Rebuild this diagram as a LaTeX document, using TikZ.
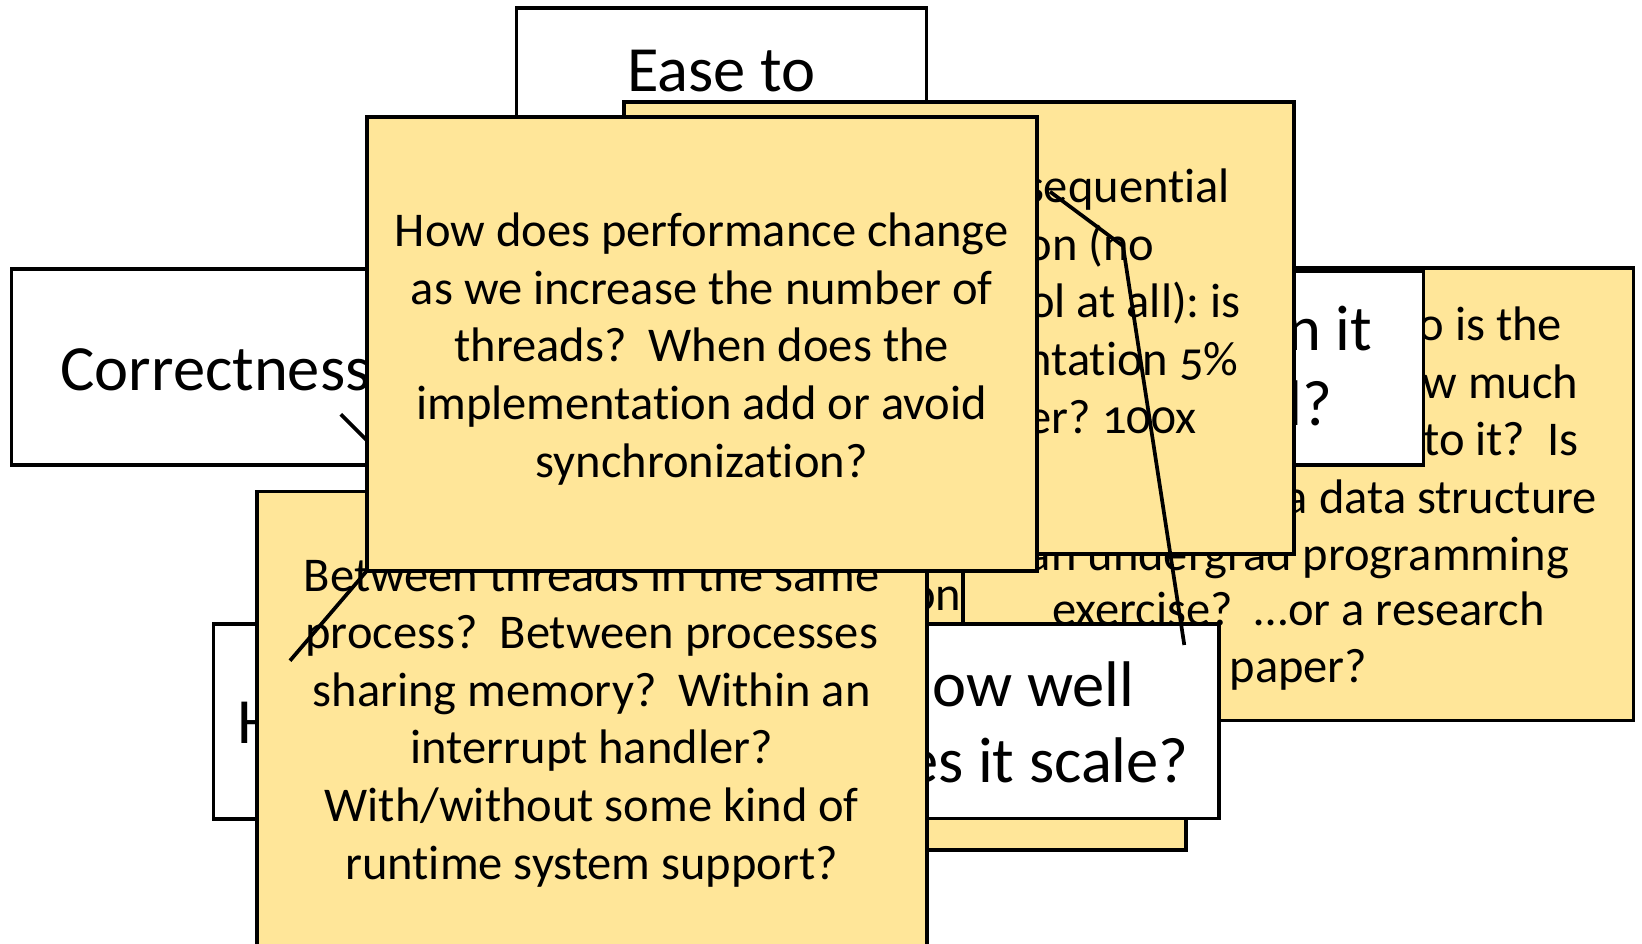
\documentclass[tikz,border=0pt]{standalone}
\usepackage{fontspec}
\setmainfont{Carlito}[Numbers=OldStyle, Ligatures=NoCommon]
\definecolor{callout}{HTML}{FFE699}
\tikzset{
  box/.style={draw=black, inner sep=0pt, outer sep=0pt},
  wbox/.style={box, line width=3.4pt, fill=white},
  ybox/.style={box, line width=3.9pt, fill=callout},
  wtxt/.style={font=\fontsize{64.5}{75.6}\selectfont, inner sep=0pt, outer sep=0pt},
  ytxt/.style={font=\fontsize{48.5}{57.6}\selectfont, inner sep=0pt, outer sep=0pt},
  lead/.style={draw=black, line width=3.7pt},
}
\begin{document}
\frenchspacing
\begin{tikzpicture}[x=1pt,y=-1pt]
\useasboundingbox (0,0) rectangle (1642,944);
\fill[white] (0,0) rectangle (1642,944);

% back yellow callout (mostly hidden)
\node[ybox, minimum width=670pt, minimum height=452pt] (y6) at (851,624) {};
\node[ytxt, anchor=base east] (y6a) at (961.5,610) {contention};

% white box, lower left
\node[wbox, minimum width=410.7pt, minimum height=195pt] (w5) at (418.65,721.5) {};
\node[wtxt, anchor=base west] (w5a) at (237,743) {How general?};

% yellow callout, right
\node[ybox, minimum width=670.2pt, minimum height=452.2pt] (y3) at (1298.4,494.4) {};
\node[ytxt, anchor=base east] (y3a) at (1562,340.7) {Who is the};
\node[ytxt, anchor=base east] (y3b) at (1578.5,398.3) {audience?~ How much};
\node[ytxt, anchor=base east] (y3c) at (1578.5,455.9) {effort went into it?~ Is};
\node[ytxt, anchor=base east] (y3d) at (1597,513.5) {this meant as a data structure};
\node[ytxt, anchor=base] (y3e) at (1298.4,570.5) {an undergrad programming};
\node[ytxt, anchor=base] (y3f) at (1298.4,625) {exercise?~ …or a research};
\node[ytxt, anchor=base] (y3g) at (1298.4,682.6) {paper?};

% white box, right
\node[wbox, minimum width=410.5pt, minimum height=194pt] (w3) at (1218.25,368) {};
\node[wtxt, anchor=base east] (w3a) at (1372,350) {When can it};
\node[wtxt, anchor=base east] (w3b) at (1332,425.6) {be used?};

% white box, lower right
\node[wbox, minimum width=411pt, minimum height=194.5pt] (w4) at (1013.5,721.25) {};
\node[wtxt, anchor=base] (w4a) at (1013.5,706) {How well};
\node[wtxt, anchor=base] (w4b) at (1013.5,782) {does it scale?};

% white box, top
\node[wbox, minimum width=410.5pt, minimum height=196pt] (w2) at (721.5,106) {};
\node[wtxt, anchor=base] (w2a) at (721.5,92) {Ease to};
\node[wtxt, anchor=base] (w2b) at (721.5,167.6) {program?};

% yellow callout, upper right
\node[ybox, minimum width=670pt, minimum height=452.3pt] (y2) at (959,327.85) {};
\node[ytxt, anchor=base east] (y2a) at (1230,202.7) {Compared to the sequential};
\node[ytxt, anchor=base east] (y2b) at (1154.5,260.3) {implementation (no};
\node[ytxt, anchor=base east] (y2c) at (1241,317.9) {concurrency control at all): is};
\node[ytxt, anchor=base east] (y2d) at (1238.5,375.5) {the new implementation 5\%};
\node[ytxt, anchor=base east] (y2e) at (1197,433.1) {slower? 2x slower? 100x};
\node[ytxt, anchor=base] (y2f) at (959,490.7) {slower?};
\coordinate (l3s) at (1050,191.7);
\coordinate (l3m) at (1123,246);
\coordinate (l3e) at (1184.3,645);
\draw[lead] (l3s) -- (l3m) -- (l3e);

% white box, left
\node[wbox, minimum width=410.5pt, minimum height=196pt] (w1) at (216.75,367) {};
\node[wtxt, anchor=base] (w1a) at (215.5,390) {Correctness};

% yellow callout, lower left
\node[ybox, minimum width=670.1pt, minimum height=457.5pt] (y5) at (591.75,720.25) {};
\node[ytxt, anchor=base] (y5a) at (591.75,591.1) {Between threads in the same};
\node[ytxt, anchor=base] (y5b) at (591.75,648.7) {process?~ Between processes};
\node[ytxt, anchor=base] (y5c) at (591.75,706.3) {sharing memory?~ Within an};
\node[ytxt, anchor=base] (y5d) at (591.75,763.9) {interrupt handler?};
\node[ytxt, anchor=base] (y5e) at (591.75,821.5) {With/without some kind of};
\node[ytxt, anchor=base] (y5f) at (591.75,879.1) {runtime system support?};
\coordinate (l1s) at (340.7,414.3);
\coordinate (l1e) at (417.5,491);
\draw[lead] (l1s) -- (l1e);

% front yellow callout
\node[ybox, minimum width=670pt, minimum height=454pt] (y1) at (701.7,344) {};
\node[ytxt, anchor=base] (y1a) at (701.7,246.7) {How does performance change};
\node[ytxt, anchor=base] (y1b) at (701.7,304.3) {as we increase the number of};
\node[ytxt, anchor=base] (y1c) at (701.7,361.9) {threads?~ When does the};
\node[ytxt, anchor=base] (y1d) at (701.7,419.5) {implementation add or avoid};
\node[ytxt, anchor=base] (y1e) at (701.7,477.1) {synchronization?};
\coordinate (l2s) at (290,660.7);
\draw[lead] (l2s) -- (y1.south west);
\end{tikzpicture}
\end{document}
